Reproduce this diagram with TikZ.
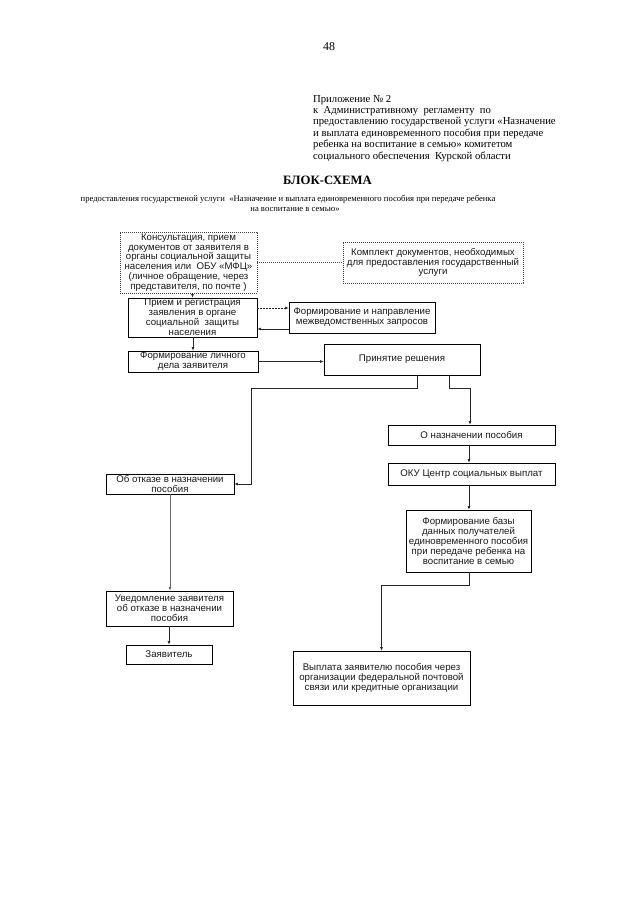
\documentclass[tikz,border=0pt]{standalone}
\usepackage{fontspec}
\setmainfont{Liberation Serif}
\setsansfont{Liberation Sans}
\usetikzlibrary{arrows.meta,calc}
\tikzset{
  box/.style={draw=black, line width=0.7bp, align=center, inner xsep=1.5bp, inner ysep=0pt,
    font=\sffamily\fontsize{9.7}{9.9}\selectfont, text=black!90},
  dotbox/.style={box, dash pattern=on 0.8bp off 1.2bp, draw=black!75},
  conn/.style={line width=0.6bp, draw=black!85},
  arr/.style={conn, -{Latex[length=3.5bp,width=2.8bp]}},
  dotconn/.style={line width=0.6bp, draw=black!70, dash pattern=on 0.8bp off 1.2bp},
}
\newcommand{\bx}[6]{% name, x1, x2, y1, y2, style
  \node[#6, minimum width={(#3-#2)*1bp}, minimum height={(#5-#4)*1bp}] (#1) at ({(#2+#3)/2},{(#4+#5)/2})}
\begin{document}
\begin{tikzpicture}[x=1bp,y=-1bp]
\useasboundingbox[fill=white] (0,0) rectangle (640,905);

\node[font=\fontsize{12}{14}\selectfont] (page) at (329,47) {48};

\node[anchor=north west, inner sep=0pt, align=left, font=\fontsize{10.7}{11.4}\selectfont] (hdr) at (313,95)
 {Приложение № 2\\
  к \ Административному \ регламенту \ по\\
  предоставлению государственой услуги «Назначение\\
  и выплата единовременного пособия при передаче\\
  ребенка на воспитание в семью» комитетом\\
  социального обеспечения \ Курской области};

\node[font=\bfseries\fontsize{12.8}{14}\selectfont, inner sep=0pt] (title) at (327.5,180) {БЛОК-СХЕМА};
\node[font=\fontsize{8.65}{9.2}\selectfont, inner sep=0pt, align=center] (sub) at (288,203.5)
 {предоставления государственой услуги \ «Назначение и выплата единовременного пособия при передаче ребенка\\
  \hspace*{14bp}на воспитание в семью»};

\bx{consult}{120}{257}{232}{293}{dotbox}{Консультация, прием\\документов от заявителя в\\органы социальной защиты\\населения или \ ОБУ «МФЦ»\\(личное обращение, через\\представителя, по почте )};
\bx{komplekt}{343}{523}{242}{283}{dotbox}{Комплект документов, необходимых\\для предоставления государственный\\услуги};
\bx{priem}{128}{257}{298}{337}{box}{Прием и регистрация\\заявления в органе\\социальной \ защиты\\населения};
\bx{mezhved}{289}{435}{302}{333}{box}{Формирование и направление\\межведомственных запросов};
\bx{delo}{128}{258}{351}{372}{box}{Формирование личного\\дела заявителя};
\bx{reshenie}{324}{480}{344}{375}{box}{Принятие решения};
\bx{naznach}{388}{555}{425}{445}{box}{О назначении пособия};
\bx{oku}{388}{555}{463}{485}{box}{ОКУ Центр социальных выплат};
\bx{baza}{406}{531}{510}{572}{box}{Формирование базы\\данных получателей\\единовременного пособия\\при передаче ребенка на\\воспитание в семью};
\bx{vyplata}{293}{470}{651}{705}{box}{Выплата заявителю пособия через\\организации федеральной почтовой\\связи или кредитные организации};
\bx{otkaz}{106}{234}{474}{494}{box}{Об отказе в назначении\\пособия};
\bx{uvedom}{106}{233}{591}{626}{box}{Уведомление заявителя\\об отказе в назначении\\пособия};
\bx{zayav}{126}{212}{645}{664}{box}{Заявитель};

\coordinate (jl) at (251,388);
\coordinate (jr) at (470,388);
\coordinate (jb) at (469,585);

\draw[dotconn] (consult.east) -- (komplekt.west);
\draw[arr] (consult.south -| priem.north) -- (priem.north);
\draw[arr, dash pattern=on 2bp off 1bp] ([yshift=9.5bp]priem.east) -- ([yshift=9.5bp]priem.east -| mezhved.west);
\draw[arr] ([yshift=-11.5bp]mezhved.west) -- ([yshift=-11.5bp]mezhved.west -| priem.east);
\draw[arr] (priem.south -| delo.north) -- (delo.north);
\draw[arr] (delo.east) -- (delo.east -| reshenie.west);
\draw[arr] ([xshift=15bp]reshenie.south) |- (jl) |- (otkaz.east);
\draw[arr] ([xshift=47bp]reshenie.south) |- (jr) -- (jr |- naznach.north);
\draw[arr] (naznach.south -| jb) -- (jb |- oku.north);
\draw[arr] (oku.south -| jb) -- (jb |- baza.north);
\draw[arr] (baza.south -| jb) -- (jb) -| (vyplata.north);
\draw[arr, draw=black!60] (otkaz.south) -- (otkaz.south |- uvedom.north);
\draw[arr] (uvedom.south -| zayav.north) -- (zayav.north);
\end{tikzpicture}
\end{document}
